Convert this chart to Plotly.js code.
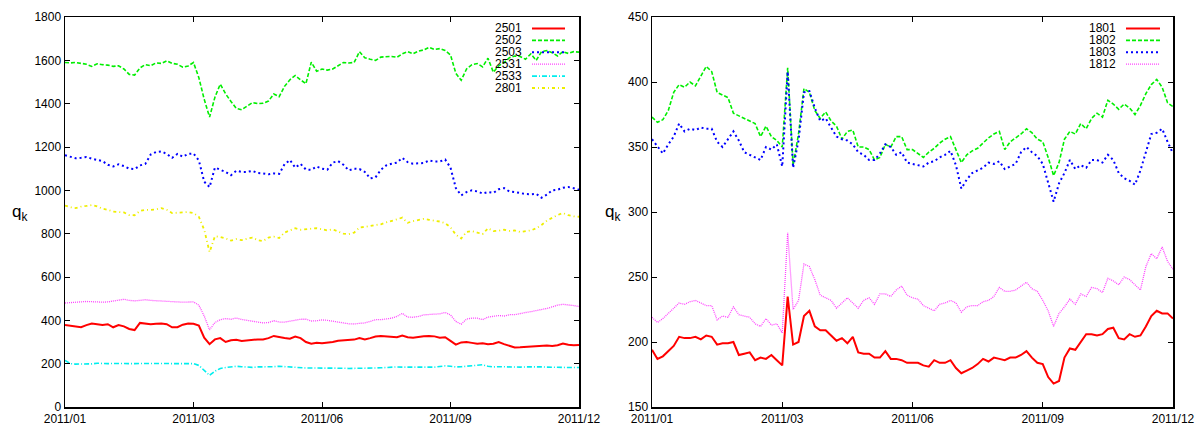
<!DOCTYPE html>
<html>
<head>
<meta charset="utf-8">
<script src="https://cdn.plot.ly/plotly-3.0.1.min.js"></script>
<style>html,body{margin:0;padding:0;background:#fff;}#chart{width:1204px;height:428px;}</style>
</head>
<body>
<div id="chart"></div>
<script>
// ---- data ----
const xTickLabels = ['2011/01', '2011/03', '2011/06', '2011/09', '2011/12'];
const leftNames = ['2501', '2502', '2503', '2531', '2533', '2801'];
const rightNames = ['1801', '1802', '1803', '1812'];

const s2501 = [378,375,370,368,378,385,382,378,382,368,378,372,360,355,388,385,382,384,385,382,368,368,380,385,384,376,320,290,312,318,300,308,310,305,308,310,312,312,318,328,322,318,315,325,318,300,292,296,294,
  296,300,306,308,311,311,318,312,318,325,328,326,324,322,330,322,320,324,326,328,326,320,322,305,288,298,300,296,292,294,290,292,300,290,282,275,276,278,278,280,283,284,282,285,293,287,285,286];
const s2502 = [1590,1588,1590,1586,1582,1572,1584,1580,1578,1572,1575,1560,1535,1532,1565,1580,1575,1588,1586,1598,1586,1582,1568,1574,1590,1520,1420,1338,1430,1490,1445,1410,1378,1372,1390,1405,1400,1402,1412,1445,1432,1480,1510,1530,1510,1492,1592,1550,1560,
  1555,1560,1577,1590,1588,1590,1640,1612,1605,1600,1615,1618,1618,1614,1630,1640,1630,1642,1648,1660,1650,1654,1645,1625,1540,1508,1560,1580,1585,1570,1610,1545,1575,1590,1612,1620,1618,1605,1630,1600,1640,1645,1635,1620,1640,1632,1640,1638];
const s2503 = [1162,1155,1148,1150,1154,1146,1142,1135,1118,1110,1120,1112,1100,1098,1115,1122,1165,1177,1180,1168,1150,1168,1155,1168,1170,1138,1040,1015,1105,1095,1085,1070,1090,1085,1085,1090,1080,1078,1074,1078,1076,1120,1140,1105,1122,1096,1095,1110,1100,
  1095,1128,1135,1118,1092,1100,1098,1085,1055,1060,1095,1115,1123,1128,1150,1130,1123,1123,1126,1138,1133,1133,1142,1105,1010,977,992,1000,995,985,992,988,1005,1010,995,992,986,983,982,984,966,980,1000,1003,1012,1015,1010,1003];
const s2531 = [480,482,483,485,487,486,484,484,485,489,494,497,492,490,492,495,492,490,489,488,486,485,484,485,485,470,420,356,390,403,408,405,411,404,400,397,392,388,390,398,392,392,396,400,405,405,397,398,402,
  400,397,392,388,384,383,386,388,395,403,403,405,410,418,432,415,414,418,425,427,427,430,436,425,395,382,406,410,410,403,415,420,422,420,426,426,432,436,440,445,448,455,462,470,474,472,468,464];
const s2533 = [215,200,198,198,197,199,202,200,200,201,200,201,200,200,201,201,202,202,201,200,200,200,201,200,200,192,168,146,165,178,182,186,188,186,184,183,185,185,184,186,188,186,184,183,182,180,180,180,182,
  182,181,180,179,178,178,177,178,178,180,181,183,185,185,184,184,183,184,183,182,184,187,190,188,185,186,188,190,192,195,188,185,186,185,184,185,184,185,186,185,185,184,183,182,181,181,182,182];
const s2801 = [930,922,918,925,928,932,926,915,910,902,900,898,886,885,905,910,910,912,918,910,895,896,898,900,895,878,818,715,788,785,778,768,775,770,777,782,770,766,782,786,780,805,815,825,818,822,823,825,820,
  815,820,810,800,798,805,828,830,835,840,843,852,858,866,874,850,858,862,868,864,860,856,848,830,795,778,808,812,805,798,825,812,814,818,813,815,808,812,815,825,840,860,875,886,895,885,880,878];

const s1801 = [194,187,189,193,197,204,203,203,204,202,205,204,198,199,199,200,190,191,192,186,188,187,190,186,182,235,198,200,220,224,212,209,209,205,201,203,199,204,192,191,191,188,188,193,187,187,186,184,184,
  184,182,181,186,184,184,186,180,176,178,180,183,187,185,188,187,186,188,188,190,193,188,184,183,173,168,170,188,195,194,200,206,206,205,206,210,211,203,202,206,204,205,212,220,224,222,222,218];
const s1802 = [373,369,371,378,392,398,396,400,397,404,412,408,392,390,388,376,374,372,370,368,358,366,358,355,350,411,336,360,395,392,378,372,377,370,366,356,362,363,350,350,348,340,342,352,350,358,358,348,348,
  345,342,346,349,353,356,358,348,338,344,347,349,353,357,360,362,348,354,357,360,364,361,356,354,342,328,338,356,362,360,368,364,372,376,373,386,383,379,383,380,375,382,391,398,402,396,384,381];
const s1803 = [356,350,345,352,358,368,362,364,363,365,364,364,354,350,356,362,355,346,344,342,340,350,348,352,335,408,334,355,392,393,380,370,372,365,358,356,355,352,346,344,340,340,345,352,350,344,346,338,337,
  336,335,338,339,342,344,347,336,318,325,330,332,334,338,337,339,333,335,337,346,350,346,343,337,322,308,322,330,340,333,336,334,340,340,338,344,340,330,326,324,321,332,346,360,361,364,354,345];
const s1812 = [219,215,218,222,226,230,229,231,232,230,228,228,217,220,219,227,221,220,219,214,212,218,213,214,207,284,225,232,260,258,248,236,234,232,226,230,234,230,226,232,234,229,237,237,235,240,243,236,234,
  233,228,226,224,229,230,232,230,223,227,228,228,231,232,235,242,239,239,240,243,246,241,239,232,224,212,222,227,233,229,237,235,242,241,238,249,247,244,250,248,244,240,258,268,264,273,262,256];

// ---- styles ----
const styleMap = {
  '2501': {color: '#ff0000', dash: 'solid', width: 2},
  '2502': {color: '#00ee00', dash: '4px,2px', width: 1.6},
  '2503': {color: '#0000ff', dash: '2px,3px', width: 2},
  '2531': {color: '#ff44ff', dash: '1px,1px', width: 1.3},
  '2533': {color: '#00eeee', dash: '5px,2px,1px,2px', width: 1.6},
  '2801': {color: '#eeee00', dash: '3px,3px,1px,3px', width: 1.8},
  '1801': {color: '#ff0000', dash: 'solid', width: 2},
  '1802': {color: '#00ee00', dash: '4px,2px', width: 1.6},
  '1803': {color: '#0000ff', dash: '2px,3px', width: 2},
  '1812': {color: '#ff44ff', dash: '1px,1px', width: 1.3}
};
const leftSeries = [s2501, s2502, s2503, s2531, s2533, s2801];
const rightSeries = [s1801, s1802, s1803, s1812];

const W = 1204, H = 428;
const px = x => x / W;
const py = y => 1 - y / H;

const traces = [];
function addTraces(names, series, xa, ya) {
  names.forEach((nm, k) => {
    const vals = series[k];
    const st = styleMap[nm];
    traces.push({
      type: 'scatter', mode: 'lines', name: nm,
      x: vals.map((_, i) => i), y: vals,
      xaxis: xa, yaxis: ya,
      line: {color: st.color, dash: st.dash, width: st.width},
      hoverinfo: 'skip', showlegend: false
    });
  });
}
// draw in reverse so red sits on top like gnuplot order
addTraces(leftNames, leftSeries, 'x', 'y');
addTraces(rightNames, rightSeries, 'x2', 'y2');

const nPts = s2501.length - 1;
const tickPos = xTickLabels.map((_, k) => nPts * k / (xTickLabels.length - 1));
const font = {family: 'Liberation Sans, Arial, Helvetica, sans-serif', size: 12, color: '#000'};

const axisCommon = {
  showline: true, linecolor: '#000', linewidth: 1.5, mirror: 'ticks',
  ticks: 'inside', ticklen: 5, tickwidth: 1, tickcolor: '#000',
  showgrid: false, zeroline: false, tickfont: font
};
const yDom = [py(407), py(17)];

// legend: labels right-aligned, line samples to the right (gnuplot style)
const annotations = [];
const shapes = [];
function addLegend(names, textRight, lineX0, lineX1, y0, dy) {
  names.forEach((nm, k) => {
    const y = y0 + dy * k;
    const st = styleMap[nm];
    annotations.push({xref: 'paper', yref: 'paper', x: px(textRight), y: py(y), xanchor: 'right', yanchor: 'middle',
      text: nm, showarrow: false, font: font});
    shapes.push({type: 'line', xref: 'paper', yref: 'paper', x0: px(lineX0), x1: px(lineX1), y0: py(y), y1: py(y),
      line: {color: st.color, dash: st.dash, width: st.width}});
  });
}
addLegend(leftNames, 524, 532, 565, 28.5, 11.9);
addLegend(rightNames, 1118, 1126, 1160, 28.5, 11.9);

annotations.push({xref: 'paper', yref: 'paper', x: px(19), y: py(213), xanchor: 'center', yanchor: 'middle',
  text: 'q<sub>k</sub>', showarrow: false, font: {family: font.family, size: 17, color: '#000'}});
annotations.push({xref: 'paper', yref: 'paper', x: px(612), y: py(213), xanchor: 'center', yanchor: 'middle',
  text: 'q<sub>k</sub>', showarrow: false, font: {family: font.family, size: 17, color: '#000'}});

const layout = {
  width: W, height: H,
  margin: {l: 0, r: 0, t: 0, b: 0, pad: 0},
  paper_bgcolor: '#fff', plot_bgcolor: '#fff',
  showlegend: false,
  font: font,
  xaxis: Object.assign({}, axisCommon, {domain: [px(65), px(579)], range: [0, nPts], tickvals: tickPos, ticktext: xTickLabels, anchor: 'y'}),
  yaxis: Object.assign({}, axisCommon, {domain: yDom, range: [0, 1800], dtick: 200, tick0: 0, anchor: 'x'}),
  xaxis2: Object.assign({}, axisCommon, {domain: [px(652), px(1173)], range: [0, nPts], tickvals: tickPos, ticktext: xTickLabels, anchor: 'y2'}),
  yaxis2: Object.assign({}, axisCommon, {domain: yDom, range: [150, 450], dtick: 50, tick0: 150, anchor: 'x2'}),
  annotations: annotations,
  shapes: shapes
};

Plotly.newPlot('chart', traces, layout, {staticPlot: true, displayModeBar: false});
</script>
</body>
</html>
